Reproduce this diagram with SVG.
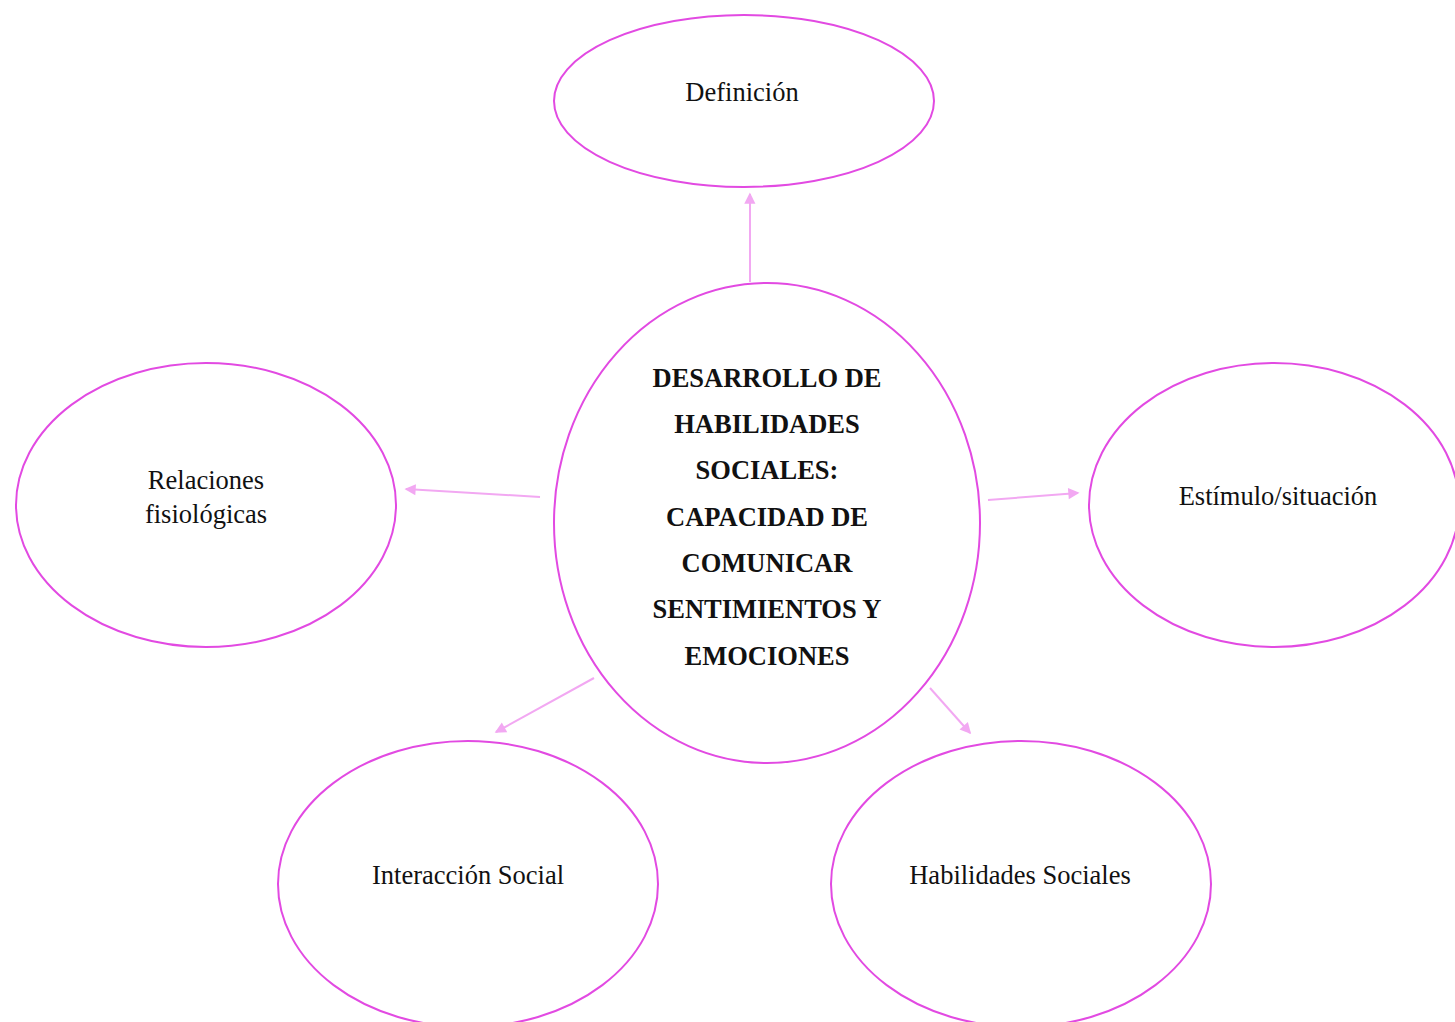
<svg xmlns="http://www.w3.org/2000/svg" width="1455" height="1022" viewBox="0 0 1455 1022">
<style>
.n{fill:#fff;stroke:#e24ae2;stroke-width:2}
.t{font-family:"Liberation Serif",serif;font-size:26.5px;fill:#111;text-anchor:middle}
.b{font-family:"Liberation Serif",serif;font-size:26.5px;font-weight:bold;fill:#111;text-anchor:middle}
.c{stroke:#f2a8f2;stroke-width:2;fill:none;marker-end:url(#a)}
</style>
<defs>
<marker id="a" viewBox="0 0 10 10" refX="9" refY="5" markerWidth="7" markerHeight="7" markerUnits="userSpaceOnUse" orient="auto" style="overflow:visible">
<path d="M0,0 L10,5 L0,10 Z" fill="#f2a8f2" transform="scale(1.6) translate(-3,-2)"/>
</marker>
</defs>
<rect width="1455" height="1022" fill="#fff"/>
<g id="connectors">
<line class="c" x1="750" y1="282" x2="750" y2="194"/>
<line class="c" x1="540" y1="497" x2="406" y2="489"/>
<line class="c" x1="988" y1="500" x2="1078" y2="493"/>
<line class="c" x1="594" y1="678" x2="496" y2="732"/>
<line class="c" x1="930" y1="688" x2="970" y2="733"/>
</g>
<g id="definicion"><ellipse class="n" cx="744" cy="101" rx="190" ry="86"/><text class="t" x="742" y="101">Definición</text></g>
<g id="central"><ellipse class="n" cx="767" cy="523" rx="213" ry="240"/>
<text class="b" x="767" y="387">DESARROLLO DE</text>
<text class="b" x="767" y="433">HABILIDADES</text>
<text class="b" x="767" y="479">SOCIALES:</text>
<text class="b" x="767" y="526">CAPACIDAD DE</text>
<text class="b" x="767" y="572">COMUNICAR</text>
<text class="b" x="767" y="618">SENTIMIENTOS Y</text>
<text class="b" x="767" y="665">EMOCIONES</text>
</g>
<g id="relaciones"><ellipse class="n" cx="206" cy="505" rx="190" ry="142"/><text class="t" x="206" y="489">Relaciones</text><text class="t" x="206" y="523">fisiológicas</text></g>
<g id="estimulo"><ellipse class="n" cx="1274" cy="505" rx="185" ry="142"/><text class="t" x="1278" y="505">Estímulo/situación</text></g>
<g id="interaccion"><ellipse class="n" cx="468" cy="884" rx="190" ry="143"/><text class="t" x="468" y="884">Interacción Social</text></g>
<g id="habilidades"><ellipse class="n" cx="1021" cy="884" rx="190" ry="143"/><text class="t" x="1020" y="884">Habilidades Sociales</text></g>
</svg>
